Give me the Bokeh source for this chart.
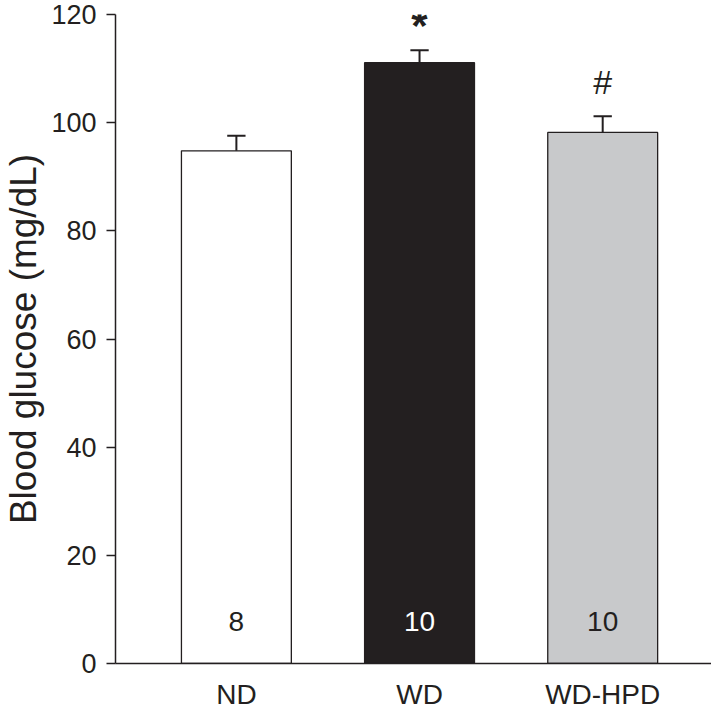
from bokeh.plotting import figure
from bokeh.models import FixedTicker, ColumnDataSource, Range1d
from bokeh.embed import file_html
from bokeh.resources import INLINE
from bokeh.core.properties import value

# ---- data ----
groups = ["ND", "WD", "WD-HPD"]
means = [94.8, 111.1, 98.2]
sems = [2.8, 2.3, 3.0]
n_labels = ["8", "10", "10"]
marks = ["", "*", "#"]
y_ticks = [0, 20, 40, 60, 80, 100, 120]

# ---- styling ----
INK = "#231f20"
fills = ["#ffffff", INK, "#c8c9cb"]
n_colors = [INK, "#ffffff", INK]
FONT = "Liberation Sans"

xs = list(range(len(groups)))
tops = [m + s for m, s in zip(means, sems)]
cap_half = 0.05

src = ColumnDataSource(dict(
    x=xs, mean=means, top=tops, fill=fills,
    cap0=[x - cap_half for x in xs], cap1=[x + cap_half for x in xs],
    n=n_labels, ncol=n_colors, ny=[7.7] * len(xs),
))

W, H = 711, 712
LEFT = 109
X0 = -0.66
p = figure(width=W, height=H, output_backend="svg", toolbar_location=None,
           x_range=Range1d(X0, X0 + (W - LEFT) / 185.0),
           y_range=Range1d(0, 120),
           min_border_left=LEFT, min_border_top=14, min_border_right=0,
           min_border_bottom=40)
p.outline_line_color = None
p.grid.visible = False
p.background_fill_color = "white"
p.border_fill_color = "white"

# bars
p.vbar(x="x", top="mean", bottom=0, width=0.6, fill_color="fill",
       line_color=INK, line_width=1.3, source=src)
# error bars (upper only)
p.segment(x0="x", y0="mean", x1="x", y1="top", line_color=INK, line_width=2, source=src)
p.segment(x0="cap0", y0="top", x1="cap1", y1="top", line_color=INK, line_width=2, source=src)

# n labels inside bars
p.text(x="x", y="ny", text="n", text_color="ncol", text_align="center",
       text_baseline="middle", text_font=value(FONT), text_font_size="28px", source=src)

# significance marks
star_src = ColumnDataSource(dict(x=[xs[1]], y=[tops[1] + 4.5], t=[marks[1]]))
p.text(x="x", y="y", text="t", text_color=INK, text_align="center",
       text_baseline="middle", text_font=value(FONT), text_font_style="bold",
       text_font_size="42px", source=star_src)
hash_src = ColumnDataSource(dict(x=[xs[2]], y=[tops[2] + 6.3], t=[marks[2]]))
p.text(x="x", y="y", text="t", text_color=INK, text_align="center",
       text_baseline="middle", text_font=value(FONT),
       text_font_size="34px", source=hash_src)

# axes
xa = p.xaxis[0]
xa.ticker = FixedTicker(ticks=xs)
xa.major_label_overrides = {i: g for i, g in zip(xs, groups)}
xa.major_tick_line_color = None
xa.minor_tick_line_color = None
xa.axis_line_color = INK
xa.axis_line_width = 1.5
xa.major_label_text_font = FONT
xa.major_label_text_font_size = "28px"
xa.major_label_text_color = INK
xa.major_label_standoff = 9

ya = p.yaxis[0]
ya.ticker = FixedTicker(ticks=y_ticks)
ya.minor_tick_line_color = None
ya.major_tick_in = 0
ya.major_tick_out = 9
ya.major_tick_line_color = INK
ya.major_tick_line_width = 1.5
ya.axis_line_color = INK
ya.axis_line_width = 1.5
ya.major_label_text_font = FONT
ya.major_label_text_font_size = "27px"
ya.major_label_text_color = INK
ya.major_label_standoff = 10
ya.axis_label = "Blood glucose (mg/dL)"
ya.axis_label_text_font = FONT
ya.axis_label_text_font_size = "37px"
ya.axis_label_text_font_style = "normal"
ya.axis_label_text_color = INK
ya.axis_label_standoff = 4

open("out.html", "w").write(file_html(p, INLINE))
